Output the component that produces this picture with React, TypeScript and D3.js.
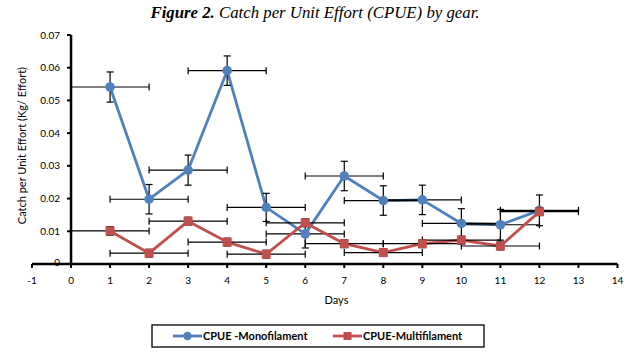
import React, { useEffect, useRef } from "react";
import * as d3 from "d3";

const days = [1, 2, 3, 4, 5, 6, 7, 8, 9, 10, 11, 12];
const mono = [0.0541, 0.0198, 0.0287, 0.0591, 0.0173, 0.0092, 0.0269, 0.0194, 0.0196, 0.0124, 0.012, 0.0164];
const monoErr = [0.0046, 0.0045, 0.0046, 0.0045, 0.0043, 0.0043, 0.0045, 0.0045, 0.0045, 0.0045, 0.0047, 0.0047];
const multi = [0.0101, 0.0033, 0.0131, 0.0067, 0.003, 0.0126, 0.0062, 0.0035, 0.0062, 0.0073, 0.0055, 0.016];
const multiErr = [0.0013, 0.0012, 0.0012, 0.0012, 0.0012, 0.0012, 0.0012, 0.0012, 0.0012, 0.0012, 0.0012, 0.0012];
const dayErr = [1, 1, 1, 1, 1, 1, 1, 1, 1, 1, 1, 1];
const xTicks = d3.range(-1, 15);
const yTicks = [0, 0.01, 0.02, 0.03, 0.04, 0.05, 0.06, 0.07];
const seriesNames = ["CPUE -Monofilament", "CPUE-Multifilament"];

const BLUE = "#4F81BD";
const RED = "#C0504D";
const FONT = "Lato, 'Open Sans', sans-serif";

export default function App() {
  const ref = useRef<SVGSVGElement>(null);
  useEffect(() => {
    document.body.style.margin = "0";
    const svg = d3.select(ref.current);
    svg.selectAll("*").remove();
    const x = d3.scaleLinear().domain([-1, 14]).range([32, 617.5]);
    const y = d3.scaleLinear().domain([0, 0.07]).range([264, 35]);

    // Title
    const title = svg.append("text").attr("x", 315).attr("y", 18).attr("text-anchor", "middle")
      .attr("font-family", "'Liberation Serif', serif").attr("font-size", 16.8).attr("font-style", "italic");
    title.append("tspan").attr("font-weight", "bold").text("Figure 2.");
    title.append("tspan").text(" Catch per Unit Effort (CPUE) by gear.");

    // Axes
    const ax = svg.append("g").attr("stroke", "#000");
    ax.append("line").attr("x1", x(-1)).attr("x2", x(14)).attr("y1", y(0)).attr("y2", y(0)).attr("stroke-width", 2.5);
    ax.append("line").attr("x1", x(0)).attr("x2", x(0)).attr("y1", y(0)).attr("y2", y(0.07)).attr("stroke-width", 2.5);
    xTicks.forEach(t => {
      ax.append("line").attr("x1", x(t)).attr("x2", x(t)).attr("y1", y(0)).attr("y2", y(0) + 4).attr("stroke-width", 2);
    });
    yTicks.forEach(t => {
      ax.append("line").attr("x1", x(0) - 4).attr("x2", x(0)).attr("y1", y(t)).attr("y2", y(t)).attr("stroke-width", 2);
    });
    svg.append("g").selectAll("text").data(xTicks).join("text")
      .attr("x", d => x(d)).attr("y", 284).attr("text-anchor", "middle")
      .attr("font-family", FONT).attr("font-size", 10).text(d => String(d));
    svg.append("g").selectAll("text").data(yTicks).join("text")
      .attr("x", 60).attr("y", d => y(d) + 3.5 - (d === 0 ? 2 : 0)).attr("text-anchor", "end")
      .attr("font-family", FONT).attr("font-size", 10).text(d => (d === 0 ? "0" : d.toFixed(2)));
    svg.append("text").attr("x", x(6.8)).attr("y", 304).attr("text-anchor", "middle")
      .attr("font-family", FONT).attr("font-size", 11).text("Days");
    svg.append("text").attr("transform", `translate(26,${y(0.0362)}) rotate(-90)`).attr("text-anchor", "middle")
      .attr("font-family", FONT).attr("font-size", 11).text("Catch per Unit Effort (Kg/ Effort)");

    const drawSeries = (vals: number[], errs: number[], color: string, square: boolean) => {
      const g = svg.append("g");
      const line = d3.line<number>().x((_, i) => x(days[i])).y(d => y(d));
      g.append("path").attr("d", line(vals)).attr("fill", "none").attr("stroke", color).attr("stroke-width", 2.8)
        .attr("stroke-linejoin", "round");
      const eb = g.append("g").attr("stroke", "#000").attr("stroke-width", 1.2);
      vals.forEach((v, i) => {
        const cx = x(days[i]);
        const cy = y(v);
        const y1 = y(v + errs[i]);
        const y2 = y(v - errs[i]);
        eb.append("line").attr("x1", cx).attr("x2", cx).attr("y1", y1).attr("y2", y2);
        eb.append("line").attr("x1", cx - 3.5).attr("x2", cx + 3.5).attr("y1", y1).attr("y2", y1);
        eb.append("line").attr("x1", cx - 3.5).attr("x2", cx + 3.5).attr("y1", y2).attr("y2", y2);
        const xa = x(days[i] - dayErr[i]);
        const xb = x(days[i] + dayErr[i]);
        eb.append("line").attr("x1", xa).attr("x2", xb).attr("y1", cy).attr("y2", cy);
        eb.append("line").attr("x1", xa).attr("x2", xa).attr("y1", cy - 3.5).attr("y2", cy + 3.5);
        eb.append("line").attr("x1", xb).attr("x2", xb).attr("y1", cy - 3.5).attr("y2", cy + 3.5);
      });
      vals.forEach((v, i) => {
        if (square) {
          g.append("rect").attr("x", x(days[i]) - 4.5).attr("y", y(v) - 4.5).attr("width", 9).attr("height", 9).attr("fill", color);
        } else {
          g.append("circle").attr("cx", x(days[i])).attr("cy", y(v)).attr("r", 4.8).attr("fill", color);
        }
      });
    };
    drawSeries(mono, monoErr, BLUE, false);
    drawSeries(multi, multiErr, RED, true);

    // Legend
    const lg = svg.append("g");
    lg.append("rect").attr("x", 152).attr("y", 325).attr("width", 332).attr("height", 22).attr("fill", "none")
      .attr("stroke", "#000").attr("stroke-width", 1.3);
    const items = [
      { name: seriesNames[0], color: BLUE, x0: 173, square: false },
      { name: seriesNames[1], color: RED, x0: 333, square: true },
    ];
    items.forEach(it => {
      lg.append("line").attr("x1", it.x0).attr("x2", it.x0 + 29).attr("y1", 336).attr("y2", 336)
        .attr("stroke", it.color).attr("stroke-width", 2.8);
      if (it.square) lg.append("rect").attr("x", it.x0 + 10.5).attr("y", 332).attr("width", 8).attr("height", 8).attr("fill", it.color);
      else lg.append("circle").attr("cx", it.x0 + 14.5).attr("cy", 336).attr("r", 4.2).attr("fill", it.color);
      lg.append("text").attr("x", it.x0 + 30).attr("y", 340).attr("font-family", FONT).attr("font-size", 11)
        .attr("font-weight", "bold").text(it.name);
    });
  }, []);
  return (
    <div style={{ position: "absolute", left: 0, top: 0 }}>
      <svg ref={ref} width={636} height={357} style={{ display: "block", background: "#fff" }} />
    </div>
  );
}
